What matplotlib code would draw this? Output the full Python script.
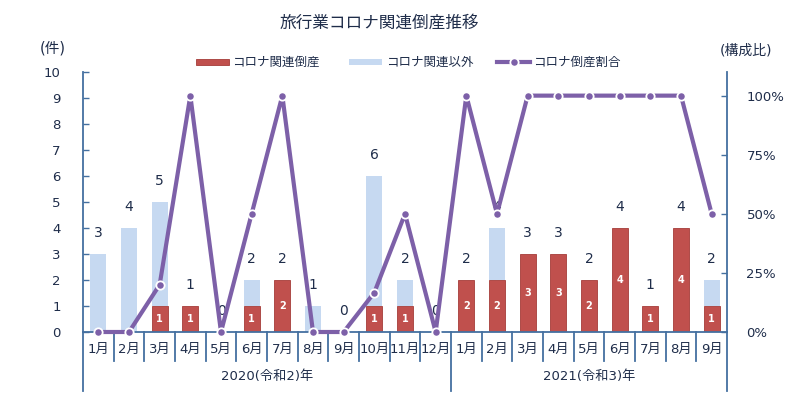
import matplotlib
matplotlib.use("Agg")
import matplotlib.pyplot as plt
from matplotlib.patches import Rectangle
from matplotlib.lines import Line2D
import numpy as np

plt.rcParams['font.family'] = ['DejaVu Sans', 'Noto Sans CJK JP']

months = ["1月", "2月", "3月", "4月", "5月", "6月", "7月", "8月", "9月", "10月", "11月", "12月",
          "1月", "2月", "3月", "4月", "5月", "6月", "7月", "8月", "9月"]
years = ["2020(令和2)年", "2021(令和3)年"]
year_counts = [12, 9]
corona = [0, 0, 1, 1, 0, 1, 2, 0, 0, 1, 1, 0, 2, 2, 3, 3, 2, 4, 1, 4, 1]
other = [3, 4, 4, 0, 0, 1, 0, 1, 0, 5, 1, 0, 0, 2, 0, 0, 0, 0, 0, 0, 1]
ratio = [0, 0, 0.20, 1.0, 0, 0.50, 1.0, 0, 0, 0.167, 0.50, 0,
         1.0, 0.50, 1.0, 1.0, 1.0, 1.0, 1.0, 1.0, 0.50]
left_ticks = list(range(0, 11))
right_ticks = [0, 0.25, 0.5, 0.75, 1.0]
right_labels = ["0%", "25%", "50%", "75%", "100%"]

RED = "#C0504D"
RED_EDGE = "#A53C39"
BLUE = "#C6D9F1"
PURPLE = "#7D60A8"
AXC = "#4470A0"
TXT = "#1F2D4A"

W, H = 800, 396
fig = plt.figure(figsize=(8, 3.96), dpi=100)
ax = fig.add_axes([83 / W, 1 - 332 / H, (727 - 83) / W, (332 - 72) / H])
ax2 = ax.twinx()

n = len(months)
x = np.arange(n)
total = [c + o for c, o in zip(corona, other)]
bw = 0.53
ax.bar(x, corona, width=bw, color=RED, edgecolor=RED_EDGE, linewidth=0.6, zorder=2)
ax.bar(x, other, width=bw, bottom=corona, color=BLUE, edgecolor='none', zorder=2)

for i in range(n):
    ax.annotate(str(total[i]), (x[i], total[i]), xytext=(0, 15), textcoords='offset points',
                ha='center', va='center', fontsize=10, color=TXT, zorder=3)
    if corona[i] > 0:
        ax.text(x[i], corona[i] / 2, str(corona[i]), ha='center', va='center',
                fontsize=7, color='white', fontweight='bold', zorder=3)

ax2.plot(x, ratio, color=PURPLE, linewidth=3, marker='o', markersize=6,
         markerfacecolor=PURPLE, markeredgecolor='white', markeredgewidth=1.3,
         zorder=5, clip_on=False)

ax.set_xlim(-0.5, n - 0.5)
ax.set_ylim(0, 10)
ax2.set_ylim(0, 1.1)
ax.set_yticks(left_ticks)
ax2.set_yticks(right_ticks)
ax2.set_yticklabels(right_labels)
ax.set_xticks([])

for a in (ax, ax2):
    for s in a.spines.values():
        s.set_visible(False)
ax.spines['left'].set_visible(True)
ax.spines['left'].set_color(AXC)
ax.spines['left'].set_linewidth(1.3)
ax2.spines['right'].set_visible(True)
ax2.spines['right'].set_color(AXC)
ax2.spines['right'].set_linewidth(1.3)
ax.spines['bottom'].set_visible(True)
ax.spines['bottom'].set_color(AXC)
ax.spines['bottom'].set_linewidth(1.3)

ax.tick_params(axis='y', direction='in', length=4, width=1, color=AXC,
               labelsize=9.5, labelcolor=TXT, pad=16)
ax2.tick_params(axis='y', direction='in', length=4, width=1, color=AXC,
                labelsize=9.5, labelcolor=TXT, pad=14)

tr = ax.get_xaxis_transform()
# month labels
for i in range(n):
    ax.text(x[i], -0.066, months[i], transform=tr, ha='center', va='center',
            fontsize=9.5, color=TXT)
# separators
bounds = [-0.5]
acc = -0.5
for c in year_counts:
    acc += c
    bounds.append(acc)
for b in np.arange(-0.5, n, 1.0):
    long = any(abs(b - bb) < 1e-9 for bb in bounds)
    ax.add_line(Line2D([b, b], [0, -0.225 if long else -0.11], transform=tr,
                       color=AXC, linewidth=1.3, clip_on=False))
# year labels
start = -0.5
for yl, c in zip(years, year_counts):
    ax.text(start + c / 2, -0.173, yl, transform=tr, ha='center', va='center',
            fontsize=9.5, color=TXT)
    start += c

# title and axis unit labels
fig.text(379 / W, 1 - 23 / H, "旅行業コロナ関連倒産推移", ha='center', va='center',
         fontsize=12, color=TXT)
fig.text(53 / W, 1 - 48 / H, "(件)", ha='center', va='center', fontsize=10.5, color=TXT)
fig.text(746 / W, 1 - 50 / H, "(構成比)", ha='center', va='center', fontsize=10, color=TXT)

# legend
ly = 62
fig.patches.append(Rectangle((196 / W, 1 - (ly + 3) / H), 33 / W, 6 / H,
                             transform=fig.transFigure, facecolor=RED, edgecolor=RED_EDGE,
                             linewidth=0.6))
fig.text(232 / W, 1 - ly / H, "コロナ関連倒産", ha='left', va='center', fontsize=9, color=TXT)
fig.patches.append(Rectangle((349 / W, 1 - (ly + 3) / H), 33 / W, 6 / H,
                             transform=fig.transFigure, facecolor=BLUE, edgecolor='none'))
fig.text(386 / W, 1 - ly / H, "コロナ関連以外", ha='left', va='center', fontsize=9, color=TXT)
fig.add_artist(Line2D([497 / W, 530 / W], [1 - ly / H, 1 - ly / H], transform=fig.transFigure,
                      color=PURPLE, linewidth=3))
fig.add_artist(Line2D([513.5 / W], [1 - ly / H], transform=fig.transFigure, marker='o',
                      markersize=6, markerfacecolor=PURPLE, markeredgecolor='white',
                      markeredgewidth=1.3, linestyle='none'))
fig.text(533 / W, 1 - ly / H, "コロナ倒産割合", ha='left', va='center', fontsize=9, color=TXT)

fig.savefig("out.png", dpi=100)
